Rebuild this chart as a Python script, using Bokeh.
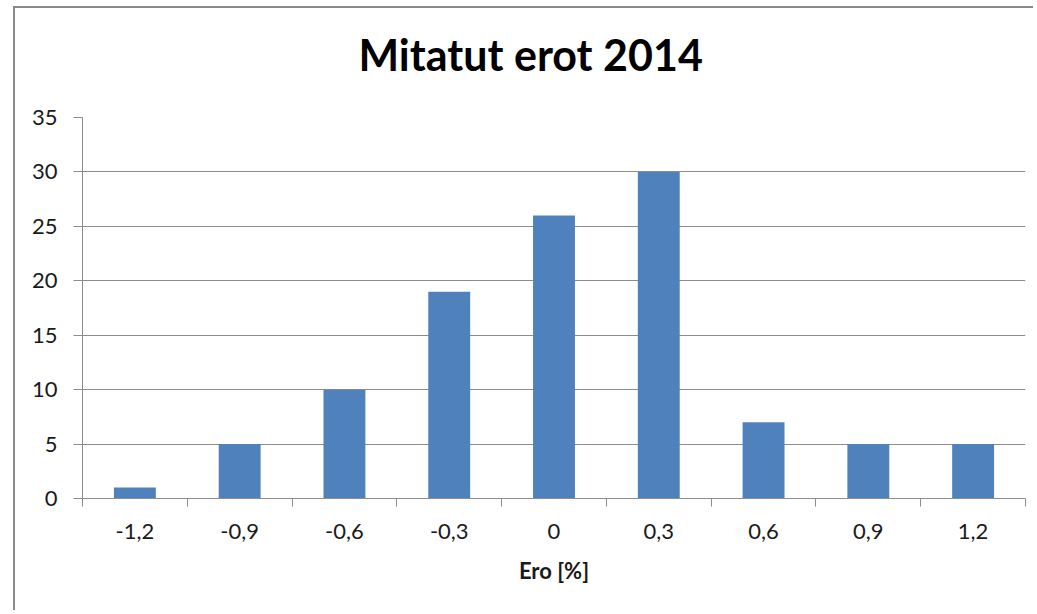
import numpy as np
from bokeh.plotting import figure
from bokeh.models import Range1d, FixedTicker, Title
from bokeh.embed import file_html
from bokeh.resources import INLINE

# ---- data ----
categories = ["-1,2", "-0,9", "-0,6", "-0,3", "0", "0,3", "0,6", "0,9", "1,2"]
counts = [1, 5, 10, 19, 26, 30, 7, 5, 5]
y_ticks = [0, 5, 10, 15, 20, 25, 30, 35]
title_text = "Mitatut erot 2014"
x_label = "Ero [%]"

FONT = "Lato"
BAR = "#4F81BD"
GRID = "#8c8c8c"

n = len(categories)
centers = list(np.arange(n) + 0.5)
bounds = list(np.arange(n + 1).astype(float))

p = figure(width=1020, height=604,
           x_range=Range1d(0, n), y_range=Range1d(0, max(y_ticks)),
           output_backend="svg", toolbar_location=None,
           min_border_left=67, min_border_right=10,
           min_border_top=109, min_border_bottom=114)
p.title = None
p.outline_line_color = None
p.background_fill_color = "white"
p.border_fill_color = "white"
p.styles = {"box-shadow": "-2px -2px 0px 0px #8a8a8a",
            "margin-left": "15px", "margin-top": "8px"}

p.vbar(x=centers, top=counts, width=0.4, bottom=0,
       fill_color=BAR, line_color=None)

# x axis
xa = p.xaxis[0]
xa.ticker = FixedTicker(ticks=centers, minor_ticks=bounds)
xa.major_label_overrides = {float(c): lab for c, lab in zip(centers, categories)}
xa.major_tick_line_color = None
xa.major_tick_out = 8
xa.major_tick_in = 0
xa.minor_tick_out = 8
xa.minor_tick_in = 0
xa.minor_tick_line_color = GRID
xa.axis_line_color = GRID
xa.major_label_text_font = FONT
xa.major_label_text_font_size = "22px"
xa.major_label_text_color = "#1a1a1a"
xa.major_label_standoff = 17
xa.axis_label = x_label
xa.axis_label_text_font = FONT
xa.axis_label_text_font_size = "22px"
xa.axis_label_text_font_style = "bold"
xa.axis_label_text_color = "#1a1a1a"
xa.axis_label_standoff = 15

# y axis
ya = p.yaxis[0]
ya.ticker = FixedTicker(ticks=y_ticks)
ya.major_tick_out = 9
ya.major_tick_in = 0
ya.minor_tick_line_color = None
ya.major_tick_line_color = GRID
ya.axis_line_color = GRID
ya.major_label_text_font = FONT
ya.major_label_text_font_size = "22px"
ya.major_label_text_color = "#1a1a1a"
ya.major_label_standoff = 16

p.xgrid.grid_line_color = None
p.ygrid.grid_line_color = GRID
p.ygrid.ticker = FixedTicker(ticks=y_ticks)

# spacer between the frame and the title (closest to the frame)
spacer = Title(text=" ", text_font_size="1px", standoff=30, text_color="white")
p.add_layout(spacer, "above")
t = Title(text=title_text, align="left", offset=276,
          text_font=FONT, text_font_size="43px", text_font_style="bold",
          text_color="#000000", standoff=10)
p.add_layout(t, "above")

open("out.html", "w").write(file_html(p, INLINE))
